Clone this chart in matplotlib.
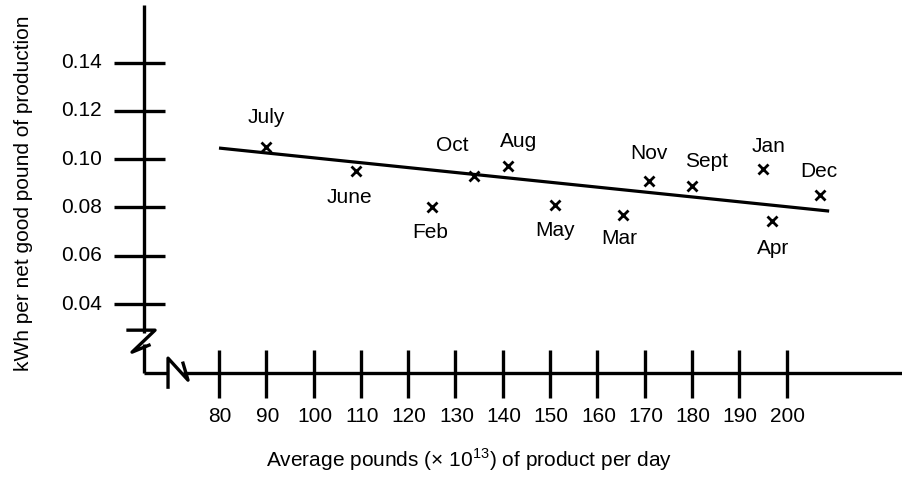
import matplotlib
matplotlib.use("Agg")
import matplotlib.pyplot as plt
import matplotlib.transforms as mtransforms

plt.rcParams['font.family'] = ['Liberation Sans', 'DejaVu Sans']
plt.rcParams['mathtext.fontset'] = 'custom'
plt.rcParams['mathtext.rm'] = 'Liberation Sans'

# monthly points
months = ['July', 'June', 'Feb', 'Oct', 'Aug', 'May', 'Mar', 'Nov', 'Sept', 'Jan', 'Apr', 'Dec']
pounds = [90, 109, 125, 134, 141, 151, 165.5, 171, 180, 195, 197, 207]
kwh = [0.105, 0.095, 0.080, 0.093, 0.097, 0.081, 0.077, 0.091, 0.089, 0.096, 0.0745, 0.085]

# fitted line endpoints
fit_x = [80, 209]
fit_y = [0.1046, 0.0785]

x_ticks = [80, 90, 100, 110, 120, 130, 140, 150, 160, 170, 180, 190, 200]
y_ticks = [0.04, 0.06, 0.08, 0.10, 0.12, 0.14]
y_tick_labels = ['0.04', '0.06', '0.08', '0.10', '0.12', '0.14']

# label placement (pixels) relative to each point
label_off = {
    'July': (0, 24), 'June': (-7, -32), 'Feb': (-2, -31), 'Oct': (-22, 25),
    'Aug': (11, 19), 'May': (0, -31), 'Mar': (-4, -29), 'Nov': (0, 22),
    'Sept': (15, 19), 'Jan': (6, 17), 'Apr': (1, -33), 'Dec': (-1, 18),
}
fs = 15

fig = plt.figure(figsize=(9.02, 4.84), dpi=100)
ax = fig.add_axes([0, 0, 1, 1])
ax.set_xlim(33.7, 224.4)
ax.set_ylim(-0.0345, 0.1659)
ax.set_autoscale_on(False)
ax.axis('off')

X0, Y0 = 64.15, 0.0116   # where the two drawn axes meet
lw = 2.4

# axis lines, with gaps for the break marks
ox, oy = ax.transData.transform((X0, Y0))
px = mtransforms.Affine2D().scale(1, -1).translate(ox, oy)  # pixel offsets from corner, y down
ax.plot([0, 0], [-367.5, -40], transform=px, color='black', lw=lw, solid_capstyle='butt')
ax.plot([0, 0], [-29, 0], transform=px, color='black', lw=lw, solid_capstyle='butt')
ax.plot([0, 24], [0, 0], transform=px, color='black', lw=lw, solid_capstyle='butt')
ax.plot([39, 800], [0, 0], transform=px, color='black', lw=lw, solid_capstyle='butt')

# break symbols
ax.plot([-16, 11, -12, 5], [-42.5, -42.5, -20.5, -27.5], transform=px, color='black', lw=lw)
ax.plot([24, 24, 44, 39], [14.5, -14.5, 7.5, -9.5], transform=px, color='black', lw=lw)

# ticks
ax.vlines(x_ticks, 0.0011, 0.021, color='black', lw=lw)
ax.hlines(y_ticks, 57.8, 68.6, color='black', lw=lw)

for xt in x_ticks:
    ax.annotate(str(xt), xy=(xt, Y0), xytext=(1, -49), textcoords='offset pixels',
                ha='center', va='baseline', fontsize=fs)
for yt, lab in zip(y_ticks, y_tick_labels):
    ax.annotate(lab, xy=(X0, yt), xytext=(-42, 0), textcoords='offset pixels',
                ha='right', va='center', fontsize=fs)

# fitted line and points
ax.plot(fit_x, fit_y, color='black', lw=2.3, solid_capstyle='butt')
ax.plot(pounds, kwh, linestyle='none', marker='x', color='black', ms=7.5, mew=2)

for m, xv, yv in zip(months, pounds, kwh):
    dx, dy = label_off[m]
    ax.annotate(m, xy=(xv, yv), xytext=(dx, dy), textcoords='offset pixels',
                ha='center', va='baseline', fontsize=fs)

ax.text(0.0255, 0.601, 'kWh per net good pound of production', transform=ax.transAxes,
        rotation=90, ha='center', va='center', fontsize=fs)
ax.text(0.52, 0.0357, r'Average pounds (× 10$^{13}$) of product per day', transform=ax.transAxes,
        ha='center', va='baseline', fontsize=fs)

fig.savefig('out.png', dpi=100)
